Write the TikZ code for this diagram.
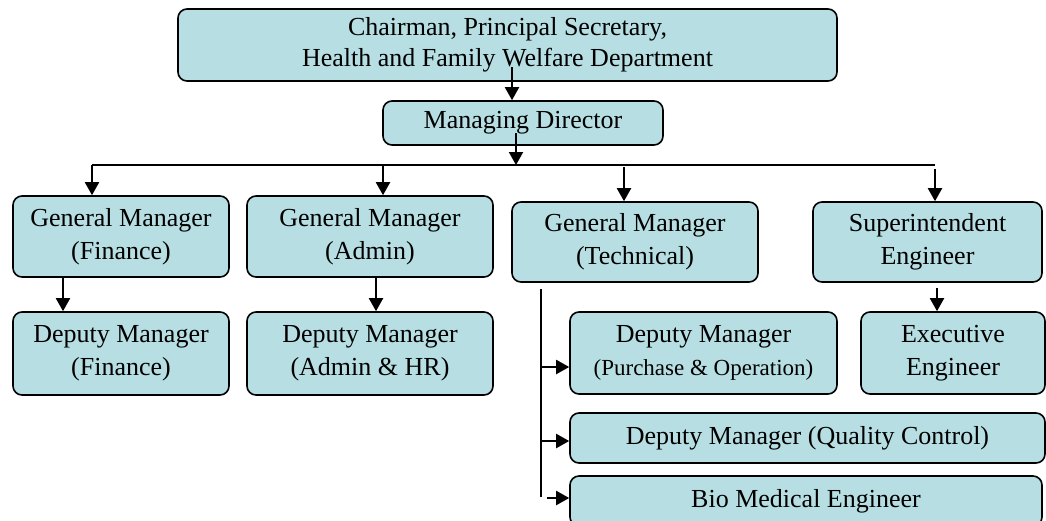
\documentclass[tikz,border=0pt]{standalone}
\usepackage{fontspec}
\setmainfont{Liberation Serif}
\usetikzlibrary{arrows.meta}
\definecolor{boxfill}{RGB}{183,223,227}
\tikzset{
  box/.style={draw=black, line width=1.6pt, fill=boxfill, rounded corners=9pt,
    align=center, inner sep=0pt, font=\fontsize{26}{33}\selectfont},
  arr/.style={line width=2pt, -{Triangle[width=14pt,length=13pt]}},
  ln/.style={line width=2pt},
  thin line/.style={line width=1.4pt}
}
\begin{document}
\begin{tikzpicture}[x=1pt,y=-1pt]
\useasboundingbox (0,0) rectangle (1046,520);
% nodes
\node[box, minimum width=659pt, minimum height=72pt, font=\fontsize{26}{31}\selectfont] (ch) at (507.5,45)
  {Chairman, Principal Secretary,\\Health and Family Welfare Department};
\node[box, minimum width=280pt, minimum height=44pt] (md) at (523,123) {Managing Director};
\node[box, minimum width=216pt, minimum height=81pt] (gmf) at (121,236.5) {General Manager\\(Finance)};
\node[box, minimum width=246pt, minimum height=81pt] (gma) at (370,236.5) {General Manager\\(Admin)};
\node[box, minimum width=246pt, minimum height=80pt] (gmt) at (635,242) {General Manager\\(Technical)};
\node[box, minimum width=229pt, minimum height=80pt] (se) at (927.5,242) {Superintendent\\Engineer};
\node[box, minimum width=216pt, minimum height=83pt] (dmf) at (121,353.5) {Deputy Manager\\(Finance)};
\node[box, minimum width=246pt, minimum height=83pt] (dma) at (370,353.5) {Deputy Manager\\(Admin \& HR)};
\node[box, minimum width=267pt, minimum height=82pt] (dmp) at (703.5,353)
  {Deputy Manager\\{\fontsize{23}{33}\selectfont (Purchase \& Operation)}};
\node[box, minimum width=184pt, minimum height=82pt] (ee) at (953,353) {Executive\\Engineer};
\node[box, minimum width=475pt, minimum height=50pt] (qc) at (807.5,438) {Deputy Manager (Quality Control)};
\node[box, minimum width=472pt, minimum height=50pt] (bme) at (806,501) {Bio Medical Engineer};
% connectors
\coordinate (a1) at (512,67);
\draw[arr] (a1) -- (a1 |- md.north);
\coordinate (a2) at (516,133);
\coordinate (busL) at (92,165);
\coordinate (busR) at (935,165);
\draw[ln] (busL) -- (busR);
\draw[arr] (a2) -- (a2 |- busR);
\draw[arr] (busL) -- (busL |- gmf.north);
\coordinate (b2) at (383,165);
\draw[arr] (b2) -- (b2 |- gma.north);
\coordinate (b3) at (624,167);
\draw[arr] (b3) -- (b3 |- gmt.north);
\coordinate (b4) at (935,169);
\draw[arr] (b4) -- (b4 |- se.north);
\draw[arr] ([xshift=-58pt]gmf.south) -- ([xshift=-58pt]dmf.north);
\draw[arr] ([xshift=6pt]gma.south) -- ([xshift=6pt]dma.north);
\coordinate (c3) at (937,288);
\draw[arr] (c3) -- (c3 |- ee.north);
\coordinate (t0) at (541,289);
\coordinate (t1) at (541,497);
\draw[thin line] (t0) -- (t1);
\coordinate (p1) at (541,367);
\draw[arr] (p1) -- (p1 -| dmp.west);
\coordinate (p2) at (541,441);
\draw[arr] (p2) -- (p2 -| qc.west);
\coordinate (p3) at (547,498);
\draw[arr] (p3) -- (p3 -| bme.west);
\end{tikzpicture}
\end{document}
